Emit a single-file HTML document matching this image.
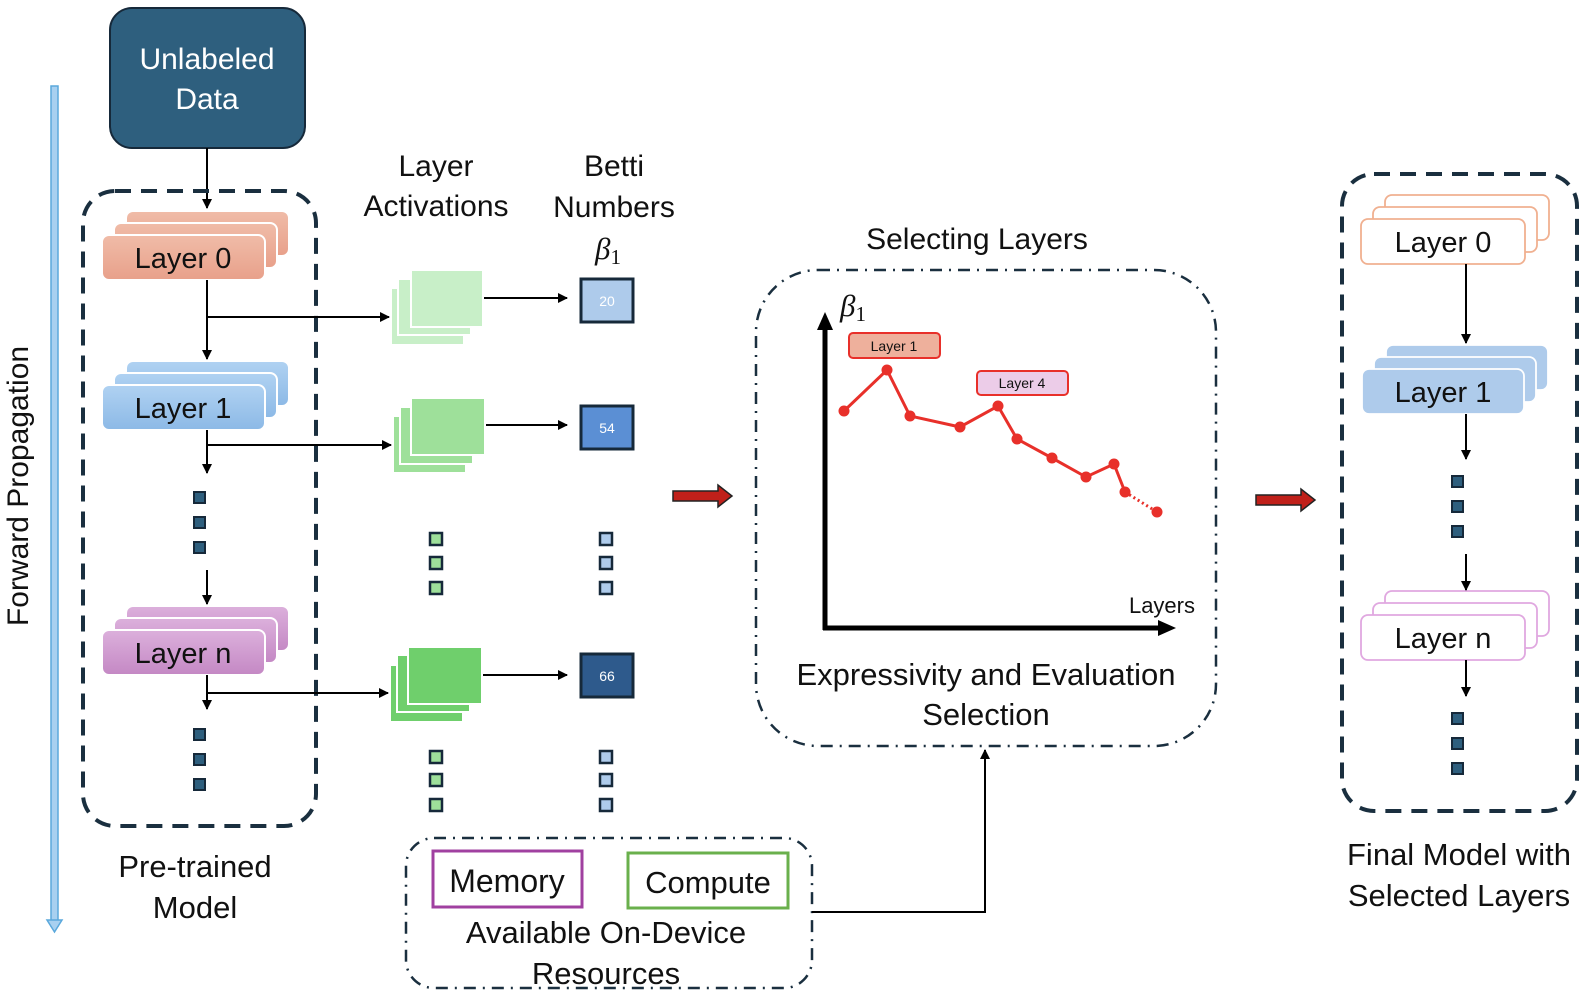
<!DOCTYPE html>
<html><head><meta charset="utf-8"><style>
html,body{margin:0;padding:0;background:#fff}
svg{display:block}
text{font-family:"Liberation Sans",sans-serif;fill:#111}
</style></head><body>
<svg width="1589" height="998" viewBox="0 0 1589 998" xmlns="http://www.w3.org/2000/svg">
<defs>
<marker id="ah" markerWidth="10" markerHeight="10" refX="9" refY="5" orient="auto" markerUnits="userSpaceOnUse"><path d="M0,0 L10,5 L0,10 z" fill="#000"/></marker>
<linearGradient id="gO" x1="0" y1="0" x2="0" y2="1"><stop offset="0" stop-color="#f0bca8"/><stop offset="1" stop-color="#e8a08a"/></linearGradient>
<linearGradient id="gB" x1="0" y1="0" x2="0" y2="1"><stop offset="0" stop-color="#b0d2f2"/><stop offset="1" stop-color="#8cb9e6"/></linearGradient>
<linearGradient id="gP" x1="0" y1="0" x2="0" y2="1"><stop offset="0" stop-color="#dcb0dc"/><stop offset="1" stop-color="#c488c4"/></linearGradient>
</defs>

<rect x="51" y="86" width="7" height="840" fill="#a8d0f0" stroke="#5aa8dc" stroke-width="1.5"/>
<path d="M47,920 L62,920 L54.5,932 z" fill="#a8d0f0" stroke="#5aa8dc" stroke-width="1.5"/>
<text x="28" y="486" font-size="30" text-anchor="middle" transform="rotate(-90 28 486)">Forward Propagation</text>

<rect x="110" y="8" width="195" height="140" rx="22" fill="#2e5f7e" stroke="#16293a" stroke-width="2"/>
<text x="207" y="69" font-size="30" text-anchor="middle" style="fill:#fff">Unlabeled</text>
<text x="207" y="109" font-size="30" text-anchor="middle" style="fill:#fff">Data</text>
<line x1="207" y1="148" x2="207" y2="208" stroke="#000" stroke-width="2" marker-end="url(#ah)"/>

<rect x="83" y="191" width="233" height="635" rx="32" fill="none" stroke="#1a2f3f" stroke-width="4" stroke-dasharray="16,10"/>

<g stroke="#fff" stroke-width="2">
<rect x="126" y="211" width="163" height="45" rx="7" fill="url(#gO)"/>
<rect x="114" y="223" width="163" height="45" rx="7" fill="url(#gO)"/>
<rect x="102" y="235" width="163" height="45" rx="7" fill="url(#gO)"/>
<rect x="126" y="361" width="163" height="45" rx="7" fill="url(#gB)"/>
<rect x="114" y="373" width="163" height="45" rx="7" fill="url(#gB)"/>
<rect x="102" y="385" width="163" height="45" rx="7" fill="url(#gB)"/>
<rect x="126" y="606" width="163" height="45" rx="7" fill="url(#gP)"/>
<rect x="114" y="618" width="163" height="45" rx="7" fill="url(#gP)"/>
<rect x="102" y="630" width="163" height="45" rx="7" fill="url(#gP)"/>
</g>
<text x="183" y="268" font-size="29" text-anchor="middle">Layer 0</text>
<text x="183" y="418" font-size="29" text-anchor="middle">Layer 1</text>
<text x="183" y="663" font-size="29" text-anchor="middle">Layer n</text>

<g stroke="#000" stroke-width="2" fill="none">
<line x1="207" y1="280" x2="207" y2="359" marker-end="url(#ah)"/>
<line x1="207" y1="430" x2="207" y2="473" marker-end="url(#ah)"/>
<line x1="207" y1="570" x2="207" y2="604" marker-end="url(#ah)"/>
<line x1="207" y1="675" x2="207" y2="709" marker-end="url(#ah)"/>
<line x1="207" y1="317" x2="389" y2="317" marker-end="url(#ah)"/>
<line x1="207" y1="445" x2="391" y2="445" marker-end="url(#ah)"/>
<line x1="207" y1="693" x2="388" y2="693" marker-end="url(#ah)"/>
<line x1="484" y1="298" x2="567" y2="298" marker-end="url(#ah)"/>
<line x1="486" y1="425" x2="567" y2="425" marker-end="url(#ah)"/>
<line x1="483" y1="675" x2="567" y2="675" marker-end="url(#ah)"/>
</g>

<g fill="#2e5f7e" stroke="#16293a" stroke-width="2">
<rect x="194" y="492" width="11" height="11"/><rect x="194" y="517" width="11" height="11"/><rect x="194" y="542" width="11" height="11"/>
<rect x="194" y="729" width="11" height="11"/><rect x="194" y="754" width="11" height="11"/><rect x="194" y="779" width="11" height="11"/>
<rect x="1452" y="476" width="11" height="11"/><rect x="1452" y="501" width="11" height="11"/><rect x="1452" y="526" width="11" height="11"/>
<rect x="1452" y="713" width="11" height="11"/><rect x="1452" y="738" width="11" height="11"/><rect x="1452" y="763" width="11" height="11"/>
</g>
<g fill="#9ee09a" stroke="#16293a" stroke-width="2.5">
<rect x="430" y="533" width="12" height="12"/><rect x="430" y="557" width="12" height="12"/><rect x="430" y="582" width="12" height="12"/>
<rect x="430" y="751" width="12" height="12"/><rect x="430" y="774" width="12" height="12"/><rect x="430" y="799" width="12" height="12"/>
</g>
<g fill="#aecbeb" stroke="#16293a" stroke-width="2.5">
<rect x="600" y="533" width="12" height="12"/><rect x="600" y="557" width="12" height="12"/><rect x="600" y="582" width="12" height="12"/>
<rect x="600" y="751" width="12" height="12"/><rect x="600" y="774" width="12" height="12"/><rect x="600" y="799" width="12" height="12"/>
</g>

<g stroke="#fff" stroke-width="2">
<rect x="391" y="288" width="73" height="57" fill="#c8efc8"/>
<rect x="398" y="279" width="73" height="56" fill="#c8efc8"/>
<rect x="411" y="270" width="72" height="57" fill="#c8efc8"/>
<rect x="393" y="416" width="73" height="57" fill="#9ee09a"/>
<rect x="400" y="407" width="73" height="57" fill="#9ee09a"/>
<rect x="411" y="398" width="74" height="57" fill="#9ee09a"/>
<rect x="390" y="665" width="73" height="57" fill="#6fcf6c"/>
<rect x="397" y="655" width="73" height="57" fill="#6fcf6c"/>
<rect x="408" y="647" width="74" height="57" fill="#6fcf6c"/>
</g>

<g stroke="#16293a" stroke-width="3">
<rect x="581" y="279" width="52" height="43" fill="#aecbeb"/>
<rect x="581" y="406" width="52" height="43" fill="#5b8fd4"/>
<rect x="581" y="654" width="52" height="43" fill="#2e5a8c"/>
</g>
<text x="607" y="306" font-size="14" text-anchor="middle" style="fill:#fff">20</text>
<text x="607" y="433" font-size="14" text-anchor="middle" style="fill:#fff">54</text>
<text x="607" y="681" font-size="14" text-anchor="middle" style="fill:#fff">66</text>

<text x="436" y="176" font-size="30" text-anchor="middle">Layer</text>
<text x="436" y="216" font-size="30" text-anchor="middle">Activations</text>
<text x="614" y="176" font-size="30" text-anchor="middle">Betti</text>
<text x="614" y="217" font-size="30" text-anchor="middle">Numbers</text>
<text x="595" y="259" font-size="31" font-style="italic" style="font-family:'Liberation Serif',serif">β<tspan font-size="21" font-style="normal" dy="5">1</tspan></text>

<path d="M673,491 L718,491 L718,485 L732,496 L718,507 L718,501 L673,501 z" fill="#c0201a" stroke="#222" stroke-width="1.5"/>
<path d="M1256,495 L1301,495 L1301,489 L1315,500 L1301,511 L1301,505 L1256,505 z" fill="#c0201a" stroke="#222" stroke-width="1.5"/>

<text x="977" y="249" font-size="30" text-anchor="middle">Selecting Layers</text>
<rect x="756" y="270" width="460" height="476" rx="62" fill="none" stroke="#1a2f3f" stroke-width="2.5" stroke-dasharray="12,7,2,7"/>
<line x1="825" y1="630" x2="825" y2="328" stroke="#000" stroke-width="5"/>
<path d="M817,330 L825,312 L833,330 z" fill="#000"/>
<line x1="823" y1="628" x2="1160" y2="628" stroke="#000" stroke-width="5"/>
<path d="M1158,620 L1176,628 L1158,636 z" fill="#000"/>
<text x="840" y="316" font-size="31" font-style="italic" style="font-family:'Liberation Serif',serif">β<tspan font-size="21" font-style="normal" dy="5">1</tspan></text>
<text x="1195" y="613" font-size="22" text-anchor="end">Layers</text>
<polyline points="844,411 887,370 910,416 960,427 998,406 1017,439 1052,458 1086,477 1114,464 1125,492" fill="none" stroke="#e8302a" stroke-width="3"/>
<line x1="1125" y1="492" x2="1157" y2="512" stroke="#e8302a" stroke-width="3" stroke-dasharray="2,3"/>
<g fill="#e8302a">
<circle cx="844" cy="411" r="5.5"/><circle cx="887" cy="370" r="5.5"/><circle cx="910" cy="416" r="5.5"/><circle cx="960" cy="427" r="5.5"/><circle cx="998" cy="406" r="5.5"/><circle cx="1017" cy="439" r="5.5"/><circle cx="1052" cy="458" r="5.5"/><circle cx="1086" cy="477" r="5.5"/><circle cx="1114" cy="464" r="5.5"/><circle cx="1125" cy="492" r="5.5"/><circle cx="1157" cy="512" r="5.5"/>
</g>
<rect x="849" y="333" width="91" height="25" rx="4" fill="#eeb09c" stroke="#e8302a" stroke-width="2"/>
<text x="894" y="351" font-size="14" text-anchor="middle">Layer 1</text>
<rect x="977" y="371" width="91" height="24" rx="4" fill="#eccce8" stroke="#e8302a" stroke-width="2"/>
<text x="1022" y="388" font-size="14" text-anchor="middle">Layer 4</text>
<text x="986" y="685" font-size="31" text-anchor="middle">Expressivity and Evaluation</text>
<text x="986" y="725" font-size="31" text-anchor="middle">Selection</text>

<rect x="406" y="838" width="406" height="150" rx="28" fill="none" stroke="#1a2f3f" stroke-width="2.5" stroke-dasharray="12,7,2,7"/>
<rect x="433" y="851" width="149" height="56" fill="none" stroke="#a040a0" stroke-width="3"/>
<rect x="628" y="853" width="160" height="55" fill="none" stroke="#6ab04c" stroke-width="3"/>
<text x="507" y="892" font-size="32" text-anchor="middle">Memory</text>
<text x="708" y="893" font-size="31" text-anchor="middle">Compute</text>
<text x="606" y="943" font-size="31" text-anchor="middle">Available On-Device</text>
<text x="606" y="984" font-size="31" text-anchor="middle">Resources</text>
<polyline points="812,912 985,912 985,750" fill="none" stroke="#000" stroke-width="2" marker-end="url(#ah)"/>

<text x="195" y="877" font-size="31" text-anchor="middle">Pre-trained</text>
<text x="195" y="918" font-size="31" text-anchor="middle">Model</text>

<rect x="1342" y="174" width="235" height="637" rx="32" fill="none" stroke="#1a2f3f" stroke-width="4" stroke-dasharray="16,10"/>
<g stroke-width="1.8">
<rect x="1385" y="195" width="164" height="45" rx="7" fill="#fff" stroke="#f0b090"/>
<rect x="1373" y="207" width="164" height="45" rx="7" fill="#fff" stroke="#f0b090"/>
<rect x="1361" y="219" width="164" height="45" rx="7" fill="#fff" stroke="#f0b090"/>
<rect x="1386" y="345" width="162" height="45" rx="7" fill="#aecbeb" stroke="#fff"/>
<rect x="1374" y="357" width="162" height="45" rx="7" fill="#aecbeb" stroke="#fff"/>
<rect x="1362" y="369" width="162" height="45" rx="7" fill="#aecbeb" stroke="#fff"/>
<rect x="1385" y="591" width="164" height="45" rx="7" fill="#fff" stroke="#e0a8e0"/>
<rect x="1373" y="603" width="164" height="45" rx="7" fill="#fff" stroke="#e0a8e0"/>
<rect x="1361" y="615" width="164" height="45" rx="7" fill="#fff" stroke="#e0a8e0"/>
</g>
<text x="1443" y="252" font-size="29" text-anchor="middle">Layer 0</text>
<text x="1443" y="402" font-size="29" text-anchor="middle">Layer 1</text>
<text x="1443" y="648" font-size="29" text-anchor="middle">Layer n</text>
<g stroke="#000" stroke-width="2">
<line x1="1466" y1="264" x2="1466" y2="343" marker-end="url(#ah)"/>
<line x1="1466" y1="414" x2="1466" y2="459" marker-end="url(#ah)"/>
<line x1="1466" y1="554" x2="1466" y2="590" marker-end="url(#ah)"/>
<line x1="1466" y1="660" x2="1466" y2="696" marker-end="url(#ah)"/>
</g>
<text x="1459" y="865" font-size="31" text-anchor="middle">Final Model with</text>
<text x="1459" y="906" font-size="31" text-anchor="middle">Selected Layers</text>
</svg>
</body></html>
